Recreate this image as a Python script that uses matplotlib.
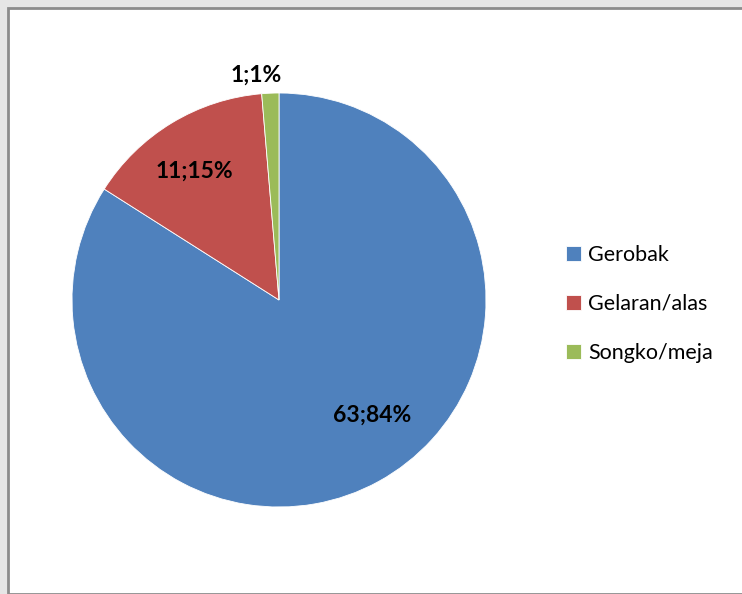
import matplotlib
matplotlib.use("Agg")
import matplotlib.pyplot as plt
from matplotlib.patches import Rectangle

categories = ["Gerobak", "Gelaran/alas", "Songko/meja"]
values = [63, 11, 1]
labels = ["63;84%", "11;15%", "1;1%"]
colors = ["#4F81BD", "#C0504D", "#9BBB59"]

W, H = 742, 594
fig = plt.figure(figsize=(W / 100, H / 100), dpi=100)
fig.patch.set_facecolor("#e6e6e6")

# chart area with border
fig.patches.append(Rectangle((8 / W, 0), 1.0, 1 - 8 / H, transform=fig.transFigure,
                             facecolor="white", edgecolor="#8c8c8c", linewidth=2, zorder=-5))

cx, cy, r = 279, 300, 207
ax = fig.add_axes([(cx - r) / W, (H - cy - r) / H, 2 * r / W, 2 * r / H])
ax.set_zorder(2)
wedges, _ = ax.pie(values, colors=colors, startangle=90, counterclock=False,
                   radius=1.0, wedgeprops=dict(edgecolor="white", linewidth=0.6))
ax.set_xlim(-1, 1)
ax.set_ylim(-1, 1)
ax.set_aspect("equal")
ax.axis("off")

font = "Lato"
label_pos = [(372, 415), (194, 171), (256, 75)]
for (px, py), t in zip(label_pos, labels):
    x = (px - cx) / r
    y = (cy - py) / r
    ax.text(x, y, t, ha="center", va="center", fontsize=16.5, fontweight="bold",
            family=font, color="black", clip_on=False)

leg = fig.legend(wedges, categories, loc="center left", bbox_to_anchor=(555 / W, (H - 304) / H),
                 frameon=False, prop={"family": font, "size": 15.5}, handlelength=0.7,
                 handleheight=0.7, handletextpad=0.35, labelspacing=1.33, borderpad=0)
leg.set_zorder(3)

fig.savefig("out.png", dpi=100, facecolor=fig.get_facecolor())
